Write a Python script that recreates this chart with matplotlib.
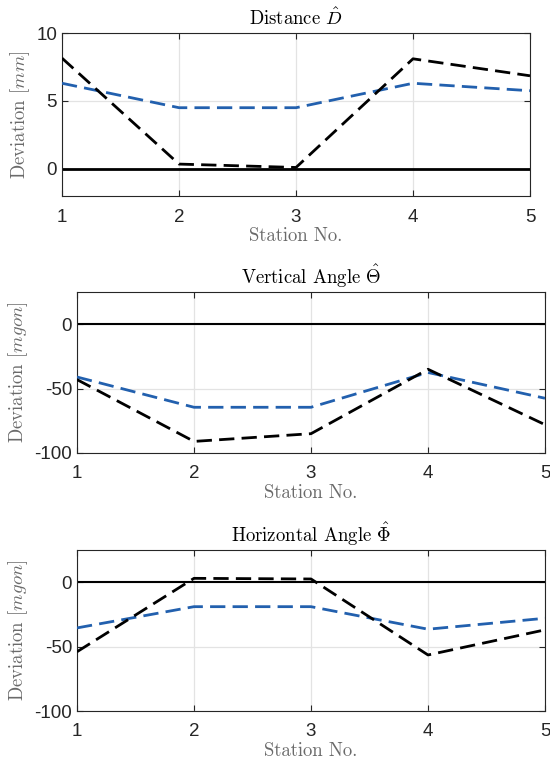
import matplotlib
matplotlib.use('Agg')
import matplotlib.pyplot as plt

stations = [1, 2, 3, 4, 5]

# deviations
dist_black = [8.15, 0.35, 0.1, 8.1, 6.85]
dist_blue = [6.3, 4.5, 4.5, 6.3, 5.75]

vert_black = [-43, -91, -85, -35, -78]
vert_blue = [-41, -64.5, -64.5, -37.5, -57.5]

horiz_black = [-54, 3, 2.5, -56.5, -37]
horiz_blue = [-35.5, -19, -19, -36.5, -28]

titles = [r'Distance $\hat{D}$', r'Vertical Angle $\hat{\Theta}$', r'Horizontal Angle $\hat{\Phi}$']
ylabels = [r'Deviation $[mm]$', r'Deviation $[mgon]$', r'Deviation $[mgon]$']
ylims = [(-2, 10), (-100, 25), (-100, 25)]
yticks = [[0, 5, 10], [-100, -50, 0], [-100, -50, 0]]

plt.rcParams['mathtext.fontset'] = 'cm'
plt.rcParams['axes.unicode_minus'] = False

W, H = 550, 764
fig = plt.figure(figsize=(W / 100, H / 100), dpi=100)

# axes boxes in pixels: left, top, right, bottom
boxes = [(62, 33, 530, 196), (77, 292, 545, 453), (77, 550, 545, 711)]
series = [(dist_black, dist_blue), (vert_black, vert_blue), (horiz_black, horiz_blue)]
zero_lw = [2.0, 1.5, 1.5]

for i, (l, t, r, b) in enumerate(boxes):
    ax = fig.add_axes([l / W, 1 - b / H, (r - l) / W, (b - t) / H])
    black, blue = series[i]
    ax.axhline(0, color='black', lw=zero_lw[i], zorder=2)
    ax.plot(stations, blue, color='#2260AE', lw=2.0, dashes=(5.5, 2.6), zorder=3)
    ax.plot(stations, black, color='black', lw=2.0, dashes=(5.5, 2.6), zorder=4)

    ax.set_xlim(1, 5)
    ax.set_ylim(*ylims[i])
    ax.set_xticks(stations)
    ax.set_yticks(yticks[i])
    ax.grid(True, color='#e3e3e3', lw=0.9)
    ax.set_axisbelow(True)
    ax.tick_params(direction='in', length=4, color='#262626', width=0.8,
                   labelsize=13.5, labelcolor='#262626', top=True, right=True)
    for lab in ax.get_xticklabels() + ax.get_yticklabels():
        lab.set_family('Liberation Sans')
    ax.tick_params(axis='x', pad=9)
    for s in ax.spines.values():
        s.set_color('#262626')
        s.set_linewidth(0.8)

    ax.set_title(titles[i], family='cmr10', fontsize=13.5, color='black', pad=6)
    ax.set_xlabel('Station No.', family='cmr10', fontsize=13.5, color='#6a6a6a', labelpad=1)
    ax.set_ylabel(ylabels[i], family='cmr10', fontsize=13.5, color='#6a6a6a', labelpad=3)

fig.savefig('out.png', dpi=100)
